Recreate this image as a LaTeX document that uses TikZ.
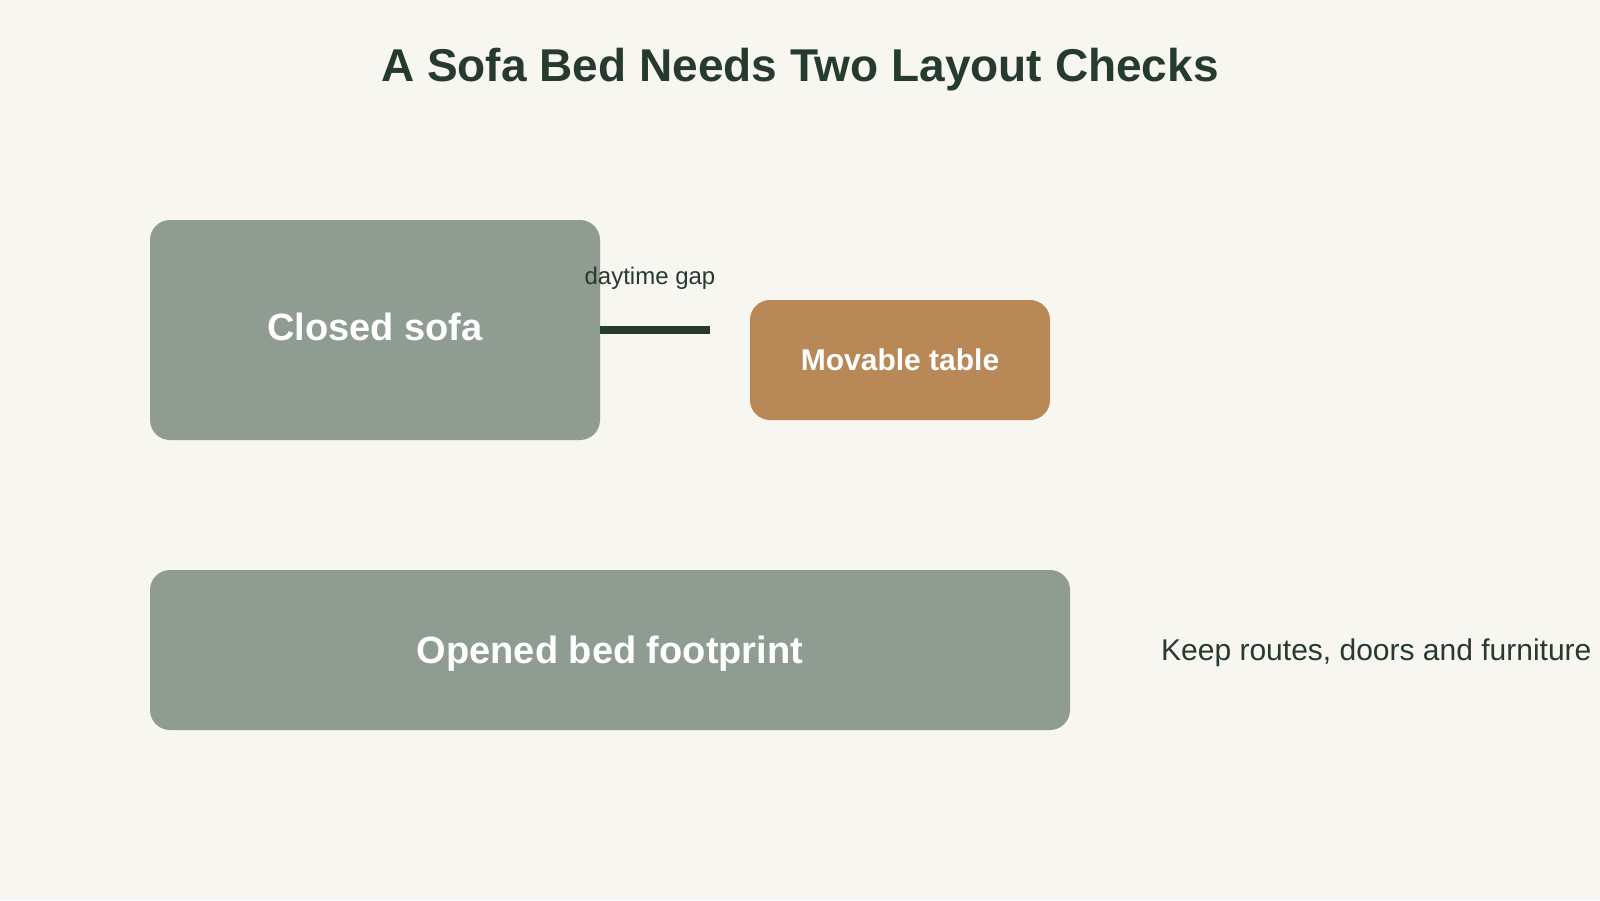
\documentclass[tikz,border=0pt]{standalone}
\usepackage{fontspec}
\setmainfont{Liberation Sans}
\usepackage{tikz}

\definecolor{PageBg}{HTML}{F7F6F1}
\definecolor{InkDark}{HTML}{263A2E}
\definecolor{SageGrey}{HTML}{8E9C91}
\definecolor{TableBrown}{HTML}{B88857}

\begin{document}
\begin{tikzpicture}[x=1pt, y=-1pt]
\coordinate (C_sofa) at (375, 330);
\coordinate (C_table) at (900, 360);
\coordinate (C_bed) at (610, 650);
\coordinate (C_title) at (800, 81);
\coordinate (C_note) at (1161, 660);
\coordinate (C_gap) at (650, 284);
\coordinate (GapEnd) at (710, 330);


\fill[PageBg] (0, 0) rectangle (1600, 900);


\tikzset{BoxStyle/.style = {
 shape = rectangle,
 rounded corners = 20pt,
 fill = SageGrey,
 text = white,
 inner sep = 0pt,
 text height = 27pt,
 text depth = 6pt,
 font = \bfseries\fontsize{38}{44}\selectfont} }

\node[BoxStyle, minimum width=450pt, minimum height=220pt] (Sofa) at (C_sofa) {Closed sofa};
\node[BoxStyle, minimum width=300pt, minimum height=120pt, fill=TableBrown,
 text height=22pt, text depth=2pt,
 font=\bfseries\fontsize{30}{36}\selectfont] (Table) at (C_table) {Movable table};
\node[BoxStyle, minimum width=920pt, minimum height=160pt, text depth=1pt] (Bed) at (C_bed) {Opened bed footprint};


\tikzset{GapStyle/.style = {line width=8pt, draw=InkDark} }

\draw[GapStyle] (Sofa.east) -- (GapEnd);


\tikzset{LabelStyle/.style = {
 text = InkDark,
 inner sep = 0pt,
 font = \fontsize{24}{28}\selectfont} }

\node[LabelStyle, anchor=base] (Gap) at (C_gap) {daytime gap};
\node[LabelStyle, anchor=base west, font=\fontsize{30}{36}\selectfont] (Note) at (C_note) {Keep routes, doors and furniture};
\node[LabelStyle, anchor=base, font=\bfseries\fontsize{46}{52}\selectfont] (Title) at (C_title) {A Sofa Bed Needs Two Layout Checks};

\end{tikzpicture}
\end{document}
